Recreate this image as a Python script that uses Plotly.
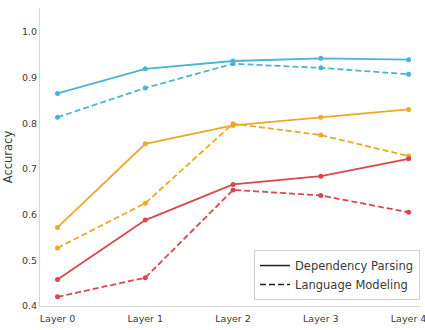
import plotly.graph_objects as go

layers = ["Layer 0", "Layer 1", "Layer 2", "Layer 3", "Layer 4"]

blue_dp = [0.865, 0.919, 0.936, 0.942, 0.939]
blue_lm = [0.813, 0.877, 0.930, 0.921, 0.907]
orange_dp = [0.572, 0.755, 0.795, 0.813, 0.830]
orange_lm = [0.527, 0.625, 0.799, 0.774, 0.728]
red_dp = [0.458, 0.588, 0.666, 0.684, 0.722]
red_lm = [0.420, 0.462, 0.654, 0.642, 0.605]

yticks = [0.4, 0.5, 0.6, 0.7, 0.8, 0.9, 1.0]

BLUE = "#4BB4D4"
ORANGE = "#EBA925"
RED = "#D8474F"

x = list(range(len(layers)))
fig = go.Figure()

series = [
    (blue_dp, BLUE, "solid"), (blue_lm, BLUE, "6px,3px"),
    (orange_dp, ORANGE, "solid"), (orange_lm, ORANGE, "6px,3px"),
    (red_dp, RED, "solid"), (red_lm, RED, "6px,3px"),
]
for vals, col, dash in series:
    fig.add_trace(go.Scatter(
        x=x, y=vals, mode="lines+markers",
        line=dict(color=col, width=1.8, dash=dash),
        marker=dict(color=col, size=5),
        showlegend=False, hoverinfo="skip", cliponaxis=False))

# legend entries
fig.add_trace(go.Scatter(x=[None], y=[None], mode="lines",
                         line=dict(color="#222", width=1.5),
                         name="Dependency Parsing"))
fig.add_trace(go.Scatter(x=[None], y=[None], mode="lines",
                         line=dict(color="#222", width=1.5, dash="6px,3px"),
                         name="Language Modeling"))

fig.update_layout(
    width=425, height=330,
    margin=dict(l=40, r=5, t=8, b=24),
    plot_bgcolor="white", paper_bgcolor="white",
    font=dict(family="DejaVu Sans", color="#3a3a3a", size=10),
    legend=dict(x=1.0, y=0.02, xanchor="right", yanchor="bottom",
                bgcolor="white", bordercolor="#d0d0d0", borderwidth=1,
                font=dict(size=11.5, color="#3a3a3a"),
                itemwidth=30, tracegroupgap=0),
)
fig.update_xaxes(
    range=[-0.2, 4.13], tickvals=x, ticktext=layers, automargin=False,
    showgrid=False, zeroline=False, showline=True, linecolor="#d6d6d6",
    linewidth=1.2, ticks="", tickfont=dict(size=9.5),
    ticklabeloverflow="allow", ticklabelstandoff=3)
fig.update_yaxes(
    range=[0.4, 1.052], tickvals=yticks, tickformat=".1f", automargin=False,
    showgrid=False, zeroline=False, showline=True, linecolor="#d6d6d6",
    linewidth=1.2, ticks="", tickfont=dict(size=9.5),
    title=dict(text="Accuracy", font=dict(size=11.5), standoff=6))

fig.write_html("out.html")
